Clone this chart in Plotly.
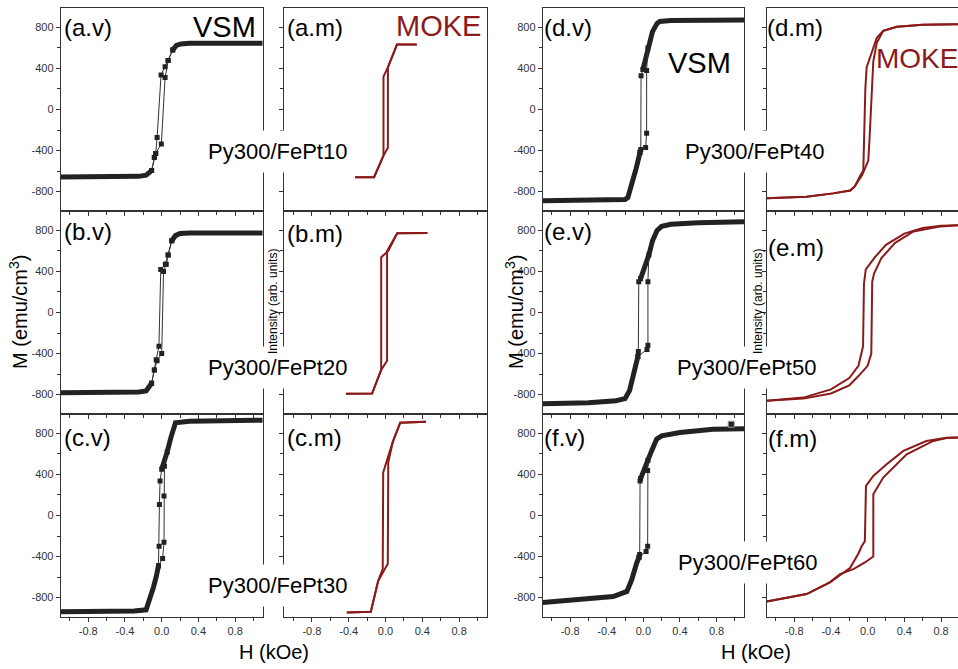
import plotly.graph_objects as go

W, H = 958, 669
FONT = "Liberation Sans, Arial, sans-serif"
BLACK = "#222222"
RED = "#8b1a1a"

# ---------------- ticks ----------------
x_tick_vals = [-0.8, -0.4, 0.0, 0.4, 0.8]
x_tick_text = ["-0.8", "-0.4", "0.0", "0.4", "0.8"]
x_minor_vals = [-1.0, -0.6, -0.2, 0.2, 0.6, 1.0]
y_tick_vals = [800, 400, 0, -400, -800]
y_tick_text = ["800", "400", "0", "-400", "-800"]
y_minor_vals = [600, 200, -200, -600]

# ---------------- VSM data (H in kOe, M in emu/cm3) ----------------
# (a.v) Py300/FePt10
av_lo_h = [-1.1, -0.6, -0.25, -0.17, -0.13, -0.11]
av_lo_m = [-658, -656, -652, -640, -615, -596]
av_hi_h = [0.12, 0.16, 0.21, 0.3, 0.6, 1.1]
av_hi_m = [580, 625, 640, 645, 645, 645]
av_desc_h = [0.12, 0.07, 0.037, -0.007, -0.05, -0.065, -0.08, -0.11]
av_desc_m = [580, 478, 418, 337, -272, -428, -467, -596]
av_asc_h = [-0.11, -0.08, -0.065, -0.004, 0.037, 0.07, 0.12]
av_asc_m = [-596, -467, -428, -336, 311, 478, 580]

# (b.v) Py300/FePt20
bv_lo_h = [-1.1, -0.6, -0.25, -0.17, -0.14, -0.11]
bv_lo_m = [-782, -780, -776, -765, -730, -690]
bv_hi_h = [0.11, 0.15, 0.2, 0.3, 0.6, 1.1]
bv_hi_m = [700, 750, 770, 775, 775, 775]
bv_desc_h = [0.11, 0.07, 0.04, -0.01, -0.03, -0.06, -0.08, -0.11]
bv_desc_m = [700, 560, 470, 420, -330, -460, -560, -690]
bv_asc_h = [-0.11, -0.08, -0.05, 0.0, 0.02, 0.05, 0.07, 0.11]
bv_asc_m = [-690, -560, -470, -400, 400, 470, 560, 700]

# (c.v) Py300/FePt30
cv_lo_h = [-1.1, -0.6, -0.3, -0.17, -0.13, -0.09, -0.06, -0.035]
cv_lo_m = [-940, -937, -932, -920, -820, -700, -600, -490]
cv_hi_h = [0.0, 0.03, 0.06, 0.1, 0.15, 0.3, 0.6, 1.1]
cv_hi_m = [450, 530, 620, 760, 905, 920, 925, 930]
cv_desc_h = [0.0, -0.018, -0.025, -0.028, -0.035]
cv_desc_m = [450, 336, 108, -300, -490]
cv_asc_h = [-0.035, 0.01, 0.025, 0.025, 0.03, 0.06]
cv_asc_m = [-490, -420, -261, 190, 480, 620]

# (d.v) Py300/FePt40
dv_lo_h = [-1.1, -0.6, -0.3, -0.2, -0.17, -0.12, -0.08, -0.05, -0.036]
dv_lo_m = [-890, -888, -884, -878, -860, -720, -580, -470, -418]
dv_hi_h = [-0.005, 0.02, 0.05, 0.1, 0.15, 0.18, 0.3, 0.6, 1.1]
dv_hi_m = [390, 470, 600, 760, 840, 858, 868, 870, 872]
dv_desc_h = [-0.005, -0.025, -0.028, -0.036]
dv_desc_m = [390, 330, -390, -418]
dv_asc_h = [-0.036, 0.025, 0.036, 0.036, 0.05]
dv_asc_m = [-418, -370, -232, 380, 600]

# (e.v) Py300/FePt50
ev_lo_h = [-1.1, -0.6, -0.3, -0.2, -0.15, -0.1, -0.06]
ev_lo_m = [-890, -880, -860, -840, -760, -600, -430]
ev_hi_h = [-0.03, 0.0, 0.06, 0.1, 0.15, 0.2, 0.3, 0.6, 1.1]
ev_hi_m = [330, 400, 560, 700, 800, 840, 860, 875, 885]
ev_desc_h = [-0.03, -0.05, -0.055, -0.06]
ev_desc_m = [330, 300, -380, -430]
ev_asc_h = [-0.06, 0.04, 0.05, 0.05, 0.06]
ev_asc_m = [-430, -360, -320, 300, 560]

# (f.v) Py300/FePt60
fv_lo_h = [-1.1, -0.7, -0.33, -0.18, -0.127, -0.073, -0.047]
fv_lo_m = [-849, -823, -790, -741, -627, -464, -408]
fv_hi_h = [-0.03, 0.018, 0.05, 0.09, 0.145, 0.2, 0.4, 0.76, 1.1]
fv_hi_m = [360, 483, 540, 630, 745, 777, 810, 842, 845]
fv_desc_h = [-0.03, -0.036, -0.04, -0.047]
fv_desc_m = [360, 336, -380, -408]
fv_asc_h = [-0.047, 0.03, 0.047, 0.047, 0.05]
fv_asc_m = [-408, -350, -300, 440, 540]
fv_spike_h = [0.96]
fv_spike_m = [890]

# ---------------- MOKE data (H in kOe, intensity in arb. units) ----------------
am_desc_h = [0.34, 0.125, 0.026, -0.022, -0.022, -0.124, -0.33]
am_desc_m = [635, 635, 410, 320, -450, -660, -660]
am_asc_h = [-0.33, -0.124, -0.022, 0.026, 0.026, 0.125, 0.34]
am_asc_m = [-660, -660, -450, -372, 410, 635, 635]

bm_desc_h = [0.455, 0.127, 0.03, -0.047, -0.047, -0.146, -0.43]
bm_desc_m = [775, 773, 600, 540, -560, -790, -793]
bm_asc_h = [-0.43, -0.146, -0.047, 0.017, 0.017, 0.127, 0.455]
bm_asc_m = [-793, -790, -560, -470, 600, 773, 775]

cm_desc_h = [0.44, 0.16, 0.08, -0.01, -0.025, -0.03, -0.08, -0.16, -0.42]
cm_desc_m = [915, 905, 720, 470, 420, -520, -640, -940, -945]
cm_asc_h = [-0.42, -0.16, -0.08, 0.0, 0.025, 0.03, 0.08, 0.16, 0.44]
cm_asc_m = [-945, -940, -640, -500, -470, 520, 720, 905, 915]

dm_desc_h = [0.985, 0.6, 0.32, 0.17, 0.1, 0.06, -0.011, -0.025, -0.047, -0.084, -0.14, -0.19, -0.375, -0.665, -1.1]
dm_desc_m = [832, 826, 807, 768, 700, 600, 411, 200, -596, -650, -750, -791, -818, -850, -866]
dm_asc_h = [-1.1, -0.665, -0.375, -0.19, -0.14, -0.06, 0.007, 0.02, 0.062, 0.1, 0.17, 0.32, 0.6, 0.985]
dm_asc_m = [-866, -850, -818, -791, -750, -640, -498, -300, 470, 650, 768, 807, 826, 832]

em_desc_h = [0.985, 0.8, 0.6, 0.4, 0.2, 0.08, -0.02, -0.04, -0.05, -0.1, -0.2, -0.4, -0.7, -1.1]
em_desc_m = [850, 845, 825, 770, 660, 540, 420, 280, -330, -520, -640, -750, -830, -860]
em_asc_h = [-1.1, -0.7, -0.4, -0.2, -0.1, 0.0, 0.04, 0.05, 0.07, 0.15, 0.3, 0.5, 0.8, 0.985]
em_asc_m = [-860, -840, -790, -710, -620, -520, -400, 300, 380, 530, 680, 790, 840, 850]

fm_desc_h = [0.985, 0.86, 0.64, 0.39, 0.207, 0.062, -0.018, -0.03, -0.065, -0.1, -0.19, -0.41, -0.665, -1.1]
fm_desc_m = [760, 758, 727, 630, 500, 386, 289, -250, -300, -370, -510, -653, -766, -838]
fm_asc_h = [-1.1, -0.665, -0.41, -0.3, -0.15, -0.03, 0.062, 0.062, 0.17, 0.425, 0.716, 0.86, 0.985]
fm_asc_m = [-838, -766, -650, -571, -520, -458, -400, 208, 370, 597, 727, 755, 760]

sample_labels = ["Py300/FePt10", "Py300/FePt20", "Py300/FePt30",
                 "Py300/FePt40", "Py300/FePt50", "Py300/FePt60"]

# ---------------- layout geometry (pixels) ----------------
cols_px = [(60.7, 262.7), (284.3, 486.7), (542.7, 744.0), (766.7, 958.0)]
rows_px = [(8, 211), (211, 414), (414, 617)]
x_ranges = [[-1.1, 1.1], [-1.1, 1.1], [-1.1, 1.1], [-1.1, 0.985]]
y_range = [-990, 990]

vsm_panels = {
    (0, 0): (av_lo_h, av_lo_m, av_hi_h, av_hi_m, av_desc_h, av_desc_m, av_asc_h, av_asc_m),
    (1, 0): (bv_lo_h, bv_lo_m, bv_hi_h, bv_hi_m, bv_desc_h, bv_desc_m, bv_asc_h, bv_asc_m),
    (2, 0): (cv_lo_h, cv_lo_m, cv_hi_h, cv_hi_m, cv_desc_h, cv_desc_m, cv_asc_h, cv_asc_m),
    (0, 2): (dv_lo_h, dv_lo_m, dv_hi_h, dv_hi_m, dv_desc_h, dv_desc_m, dv_asc_h, dv_asc_m),
    (1, 2): (ev_lo_h, ev_lo_m, ev_hi_h, ev_hi_m, ev_desc_h, ev_desc_m, ev_asc_h, ev_asc_m),
    (2, 2): (fv_lo_h, fv_lo_m, fv_hi_h, fv_hi_m, fv_desc_h, fv_desc_m, fv_asc_h, fv_asc_m),
}
moke_panels = {
    (0, 1): (am_desc_h, am_desc_m, am_asc_h, am_asc_m),
    (1, 1): (bm_desc_h, bm_desc_m, bm_asc_h, bm_asc_m),
    (2, 1): (cm_desc_h, cm_desc_m, cm_asc_h, cm_asc_m),
    (0, 3): (dm_desc_h, dm_desc_m, dm_asc_h, dm_asc_m),
    (1, 3): (em_desc_h, em_desc_m, em_asc_h, em_asc_m),
    (2, 3): (fm_desc_h, fm_desc_m, fm_asc_h, fm_asc_m),
}

fig = go.Figure()
layout_axes = {}


def ax_id(r, c):
    return r * 4 + c + 1


for r in range(3):
    for c in range(4):
        k = ax_id(r, c)
        x0, x1 = cols_px[c]
        y0, y1 = rows_px[r]
        xa = dict(
            domain=[x0 / W, min(x1 / W, 1.0)], range=x_ranges[c], anchor=f"y{k}",
            showline=True, linecolor="#333333", linewidth=1, mirror=True,
            ticks="outside", ticklen=4, tickwidth=1, tickcolor="#333333",
            tickmode="array", tickvals=x_tick_vals, ticktext=x_tick_text,
            showticklabels=(r == 2), tickfont=dict(family=FONT, size=11, color="#333333"),
            minor=dict(tickmode="array", tickvals=x_minor_vals, ticks="outside",
                       ticklen=3, tickcolor="#333333"),
            showgrid=False, zeroline=False, fixedrange=True,
        )
        ya = dict(
            domain=[1 - y1 / H, 1 - y0 / H], range=y_range, anchor=f"x{k}",
            showline=True, linecolor="#333333", linewidth=1, mirror=(c != 3),
            ticks="outside", ticklen=4, tickwidth=1, tickcolor="#333333",
            tickmode="array", tickvals=y_tick_vals, ticktext=y_tick_text,
            showticklabels=(c in (0, 2)), tickfont=dict(family=FONT, size=11, color="#333333"),
            minor=dict(tickmode="array", tickvals=y_minor_vals, ticks="outside",
                       ticklen=3, tickcolor="#333333"),
            showgrid=False, zeroline=False, fixedrange=True,
        )
        sfx = "" if k == 1 else str(k)
        layout_axes["xaxis" + sfx] = xa
        layout_axes["yaxis" + sfx] = ya

for (r, c), d in vsm_panels.items():
    k = ax_id(r, c)
    lo_h, lo_m, hi_h, hi_m, de_h, de_m, as_h, as_m = d
    for hh, mm in ((lo_h, lo_m), (hi_h, hi_m)):
        fig.add_trace(go.Scatter(x=hh, y=mm, mode="lines", xaxis=f"x{k}", yaxis=f"y{k}",
                                 line=dict(color=BLACK, width=5), showlegend=False,
                                 hoverinfo="skip"))
    for hh, mm in ((de_h, de_m), (as_h, as_m)):
        fig.add_trace(go.Scatter(x=hh, y=mm, mode="lines+markers", xaxis=f"x{k}", yaxis=f"y{k}",
                                 line=dict(color="#333333", width=1),
                                 marker=dict(symbol="square", size=5, color=BLACK),
                                 showlegend=False, hoverinfo="skip"))

k_fv = ax_id(2, 2)
fig.add_trace(go.Scatter(x=fv_spike_h, y=fv_spike_m, mode="markers", xaxis=f"x{k_fv}",
                         yaxis=f"y{k_fv}", marker=dict(symbol="square", size=6, color=BLACK,
                                                       line=dict(color="#999999", width=1)),
                         showlegend=False, hoverinfo="skip"))

for (r, c), d in moke_panels.items():
    k = ax_id(r, c)
    de_h, de_m, as_h, as_m = d
    for hh, mm in ((de_h, de_m), (as_h, as_m)):
        fig.add_trace(go.Scatter(x=hh, y=mm, mode="lines", xaxis=f"x{k}", yaxis=f"y{k}",
                                 line=dict(color=RED, width=2), showlegend=False,
                                 hoverinfo="skip"))

annotations = []


def txt(text, x, y, size, color="black", xanchor="left", angle=0, bg=None, pad=1):
    a = dict(text=text, x=x / W, y=1 - y / H, xref="paper", yref="paper",
             xanchor=xanchor, yanchor="middle", showarrow=False, textangle=angle,
             font=dict(family=FONT, size=size, color=color), borderpad=pad)
    if bg:
        a["bgcolor"] = bg
    annotations.append(a)


panel_labels = [
    ("(a.v)", 62, 27), ("(a.m)", 285, 27), ("(d.v)", 542, 27), ("(d.m)", 765, 27),
    ("(b.v)", 62, 232), ("(b.m)", 285, 233), ("(e.v)", 542, 232), ("(e.m)", 766, 247),
    ("(c.v)", 62, 437), ("(c.m)", 285, 437), ("(f.v)", 542, 437), ("(f.m)", 766, 438),
]
for t, x, y in panel_labels:
    txt(t, x, y, 24)

txt("VSM", 191, 27, 29)
txt("VSM", 666, 63, 29)
txt("MOKE", 394, 26, 29, color=RED)
txt("MOKE", 874, 59, 28, color=RED)

label_pos = [(199, 151), (199, 367), (199, 585), (676, 151), (668, 367), (669, 562)]
for t, (x, y) in zip(sample_labels, label_pos):
    txt(t, x, y, 22, bg="white", pad=8)

txt("M (emu/cm<sup>3</sup>)", 18, 312, 20, xanchor="center", angle=-90)
txt("M (emu/cm<sup>3</sup>)", 514, 312, 20, xanchor="center", angle=-90)
txt("Intensity (arb. units)", 273, 302, 12, xanchor="center", angle=-90)
txt("Intensity (arb. units)", 758, 302, 12, xanchor="center", angle=-90)
txt("H (kOe)", 274, 652, 20, xanchor="center")
txt("H (kOe)", 756, 652, 20, xanchor="center")

fig.update_layout(
    width=W, height=H, autosize=False,
    margin=dict(l=0, r=0, t=0, b=0, pad=0),
    paper_bgcolor="white", plot_bgcolor="white",
    font=dict(family=FONT),
    annotations=annotations,
    **layout_axes,
)

fig.write_html("out.html", include_plotlyjs=True)
